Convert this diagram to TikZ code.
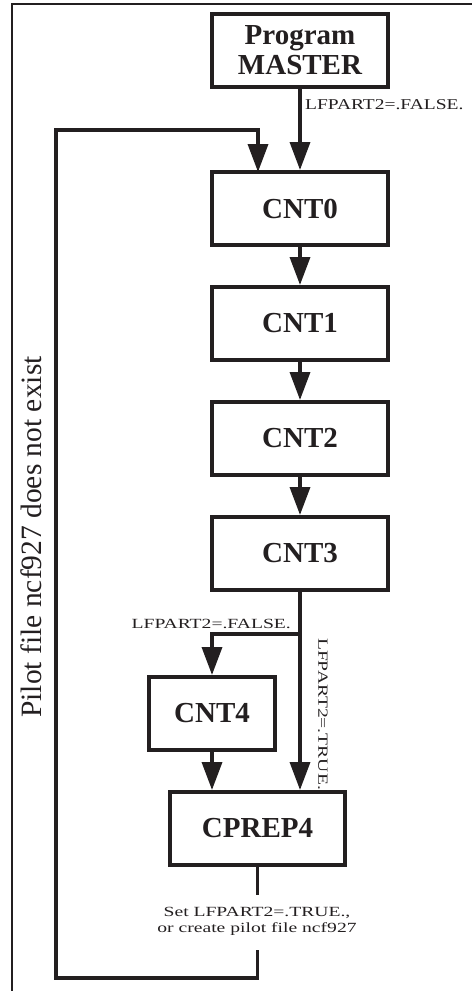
\documentclass[tikz,border=0pt]{standalone}
\usepackage{fontspec}
\usepackage{graphicx}
\setmainfont{Liberation Serif}
\usetikzlibrary{arrows.meta}
\definecolor{ink}{HTML}{231F20}
\newcommand{\hstretch}[2][1.4]{\scalebox{#1}[1]{#2}}
\begin{document}
\begin{tikzpicture}[x=1pt,y=-1pt,
  box/.style={draw=ink, text=ink, line width=4pt, minimum width=176pt, minimum height=73pt,
    inner sep=0pt, font=\fontsize{29}{30}\selectfont\bfseries, align=center},
  flow/.style={draw=ink, line width=3.5pt, -{Triangle[width=20pt,length=28pt]}},
  wire/.style={draw=ink, line width=3.5pt},
  lbl/.style={text=ink, font=\fontsize{14}{16}\selectfont, inner sep=0pt},
  frame/.style={draw=ink, line width=2.5pt}
]
\useasboundingbox (0,0) rectangle (472,991);
\draw[frame] (12,991) -- (12,4) -- (472,4);

\node[box] (master) at (300,50) {Program\\MASTER};
\node[box] (c0) at (300,208.5) {CNT0};
\node[box] (c1) at (300,323.5) {CNT1};
\node[box] (c2) at (300,438.5) {CNT2};
\node[box] (c3) at (300,553.5) {CNT3};
\node[box, minimum width=126pt] (c4) at (212,713.5) {CNT4};
\node[box, minimum width=175pt] (cp) at (257.5,828.5) {CPREP4};

\coordinate (fb0) at (257.5,895);
\coordinate (fb1) at (257.5,950);
\coordinate (lb) at (56,978);
\coordinate (lt) at (56,130);
\coordinate (br) at (300,634);
\coordinate (fbin) at (258,172);

\draw[flow] (master.south) -- (c0.north);
\draw[flow] (c0.south) -- (c1.north);
\draw[flow] (c1.south) -- (c2.north);
\draw[flow] (c2.south) -- (c3.north);
\draw[flow] (c3.south) -- (c3.south |- cp.north);
\draw[flow] (br) -| (c4.north);
\draw[flow] (c4.south) -- (c4.south |- cp.north);
\draw[wire] (cp.south) -- (fb0);
\draw[flow] (fb1) |- (lb) -- (lt) -| (fbin);

\node[lbl, font=\fontsize{15}{17}\selectfont, anchor=west] (l1) at (305,104.5) {\hstretch[1.3]{LFPART2=.FALSE.}};
\node[lbl, anchor=east] (l2) at (291,624) {\hstretch{LFPART2=.FALSE.}};
\node[lbl, rotate=-90] (l3) at (323,714) {\hstretch{LFPART2=.TRUE.}};
\node[lbl, align=center] (l4) at (257,921) {\hstretch{Set LFPART2=.TRUE.,}\\\hstretch{or create pilot file ncf927}};
\node[text=ink, font=\fontsize{29.5}{30}\selectfont, rotate=90, inner sep=0pt] (l5) at (31,537) {Pilot file ncf927 does not exist};
\end{tikzpicture}
\end{document}
